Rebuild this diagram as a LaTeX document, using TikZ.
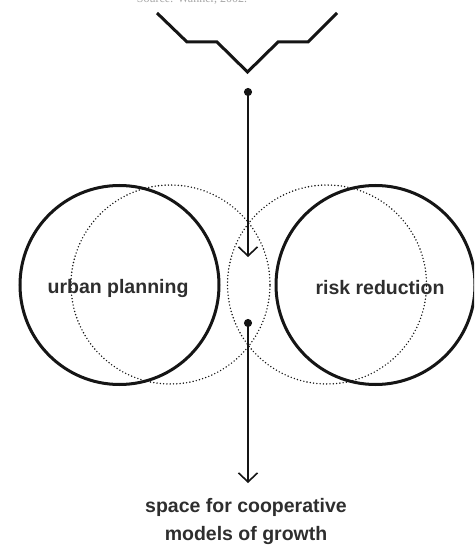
\documentclass[tikz,border=0pt]{standalone}
\usepackage{fontspec}
\setmainfont{Liberation Sans}
\newfontfamily\srcfont{Liberation Serif}
\usetikzlibrary{arrows.meta}
\definecolor{ink}{HTML}{151515}
\definecolor{txt}{HTML}{2E2E2E}
\begin{document}
\begin{tikzpicture}[x=1pt,y=-1pt,
  solidcirc/.style={circle,draw=ink,line width=3pt,minimum size=199pt,inner sep=0pt},
  dotcirc/.style={circle,draw=ink,line width=1.6pt,line cap=round,dash pattern=on 0pt off 3.3pt,minimum size=199pt,inner sep=0pt},
  lbl/.style={font=\fontsize{19.5}{28}\selectfont\bfseries,text=txt,align=center},
  flow/.style={draw=ink,line width=1.6pt,{Circle[length=8pt]}-{Straight Barb[length=9pt,width=19pt,line width=1.6pt]}}
]
\useasboundingbox (0,0) rectangle (474,548);
\clip (0,0) rectangle (474,548);
% source text (cut off at top, as in the reference)
\node[font=\srcfont\fontsize{12}{14}\selectfont,text=gray!70,anchor=base] (src) at (192,2.5) {Source: Wanner, 2002.};
% zigzag
\draw[ink,line width=3pt,line join=miter] (157,13) -- (187,42) -- (217,42) -- (247.5,72) -- (278,42) -- (308,42) -- (337,13);
% dotted circles
\node[dotcirc] (dl) at (170.5,284.5) {};
\node[dotcirc] (dr) at (327,284.5) {};
% solid circles
\node[solidcirc] (up) at (119.5,285) {};
\node[solidcirc] (rr) at (375.5,285) {};
\node[lbl] (uplbl) at (118,288) {urban planning};
\node[lbl] (rrlbl) at (380,288) {risk reduction};
% arrows
\coordinate (a1s) at (248,88);
\coordinate (a1e) at (248,257);
\coordinate (a2s) at (248,319);
\coordinate (a2e) at (248,483);
\draw[flow] (a1s) -- (a1e);
\draw[flow] (a2s) -- (a2e);
\node[lbl] (out) at (246,521) {space for cooperative\\models of growth};
\end{tikzpicture}
\end{document}
